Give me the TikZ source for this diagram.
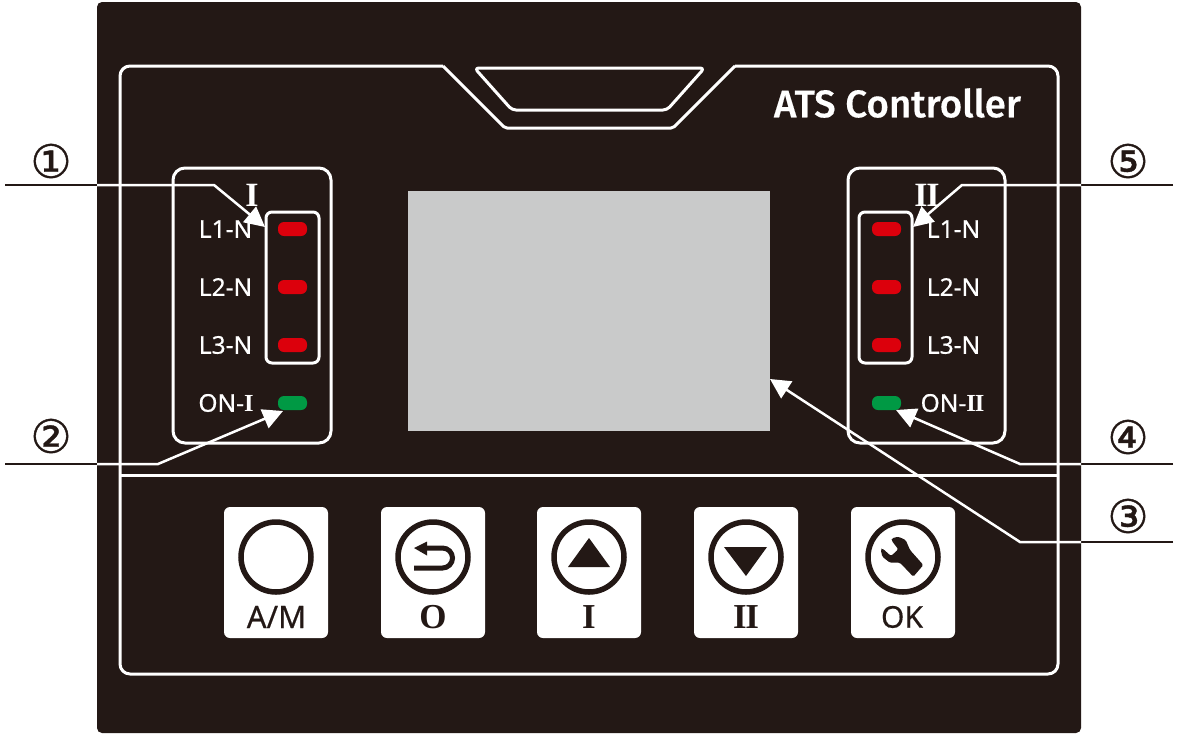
\documentclass[tikz,border=0pt]{standalone}
\usepackage{fontspec}
\usetikzlibrary{arrows.meta}
\setmainfont[FakeBold=0.5]{Noto Sans}
\newfontfamily\serifnum{Liberation Serif}
\newfontfamily\titlefont[FakeBold=0.4]{Fira Sans Medium}
\newfontfamily\dejavu[FakeBold=0.8]{DejaVu Sans}
\definecolor{panelc}{HTML}{231815}
\definecolor{screenc}{HTML}{C9CACA}
\definecolor{ledred}{HTML}{DC000C}
\definecolor{ledgreen}{HTML}{009944}
\newcommand{\fs}[1]{\fontsize{#1}{#1}\selectfont}
\newcommand{\romO}{{\serifnum\bfseries O}}
\newcommand{\romI}{{\serifnum\bfseries I}}
\newcommand{\romII}{{\serifnum\bfseries I\kern-0.04em I}}
\tikzset{
  wline/.style={draw=white,line width=3pt,line join=round},
  leadw/.style={draw=white,line width=2.5pt,line join=miter,-{Triangle[length=20pt,width=20pt,fill=white]}},
  leadk/.style={draw=panelc,line width=2.5pt},
  led/.style={rounded corners=6pt,minimum width=29pt,minimum height=14pt,inner sep=0pt,draw=none},
  redled/.style={led,fill=ledred},
  greenled/.style={led,fill=ledgreen},
  lamp/.style={text=white,font=\fs{24.5},inner sep=0pt,anchor=center},
  btn/.style={fill=white,rounded corners=6pt,minimum width=104pt,minimum height=131pt,inner sep=0pt,draw=none},
  ring/.style={circle,draw=panelc,line width=5.5pt,minimum size=70pt,inner sep=0pt},
  btntext/.style={text=panelc,inner sep=0pt,anchor=center},
  num/.style={text=panelc,font=\dejavu\fs{46},inner sep=0pt,anchor=center},
  glyph/.style={fill=panelc,draw=none},
}
\begin{document}
\begin{tikzpicture}[x=1pt,y=-1pt]
\useasboundingbox (0,0) rectangle (1180,740);
\fill[white] (0,0) rectangle (1180,740);
\fill[panelc,rounded corners=5pt] (97,2) rectangle (1081,733);
% outer outline with notch
\draw[wline,rounded corners=10pt] (443,66) -- (120,66) -- (120,674) -- (1058,674) -- (1058,66) -- (735,66);
\draw[wline,rounded corners=2pt] (443,66) -- (505,128) -- (673,128) -- (735,66);
\draw[wline,rounded corners=4pt] (474.5,68) -- (704.5,68) -- (667,110) -- (512,110) -- cycle;
\draw[wline] (120,475) -- (1058,475);
\node[text=white,font=\titlefont\fs{38.5},inner sep=0pt,anchor=center] (title) at (897.5,103) {ATS Controller};
% screen
\node[fill=screenc,minimum width=362pt,minimum height=240pt,inner sep=0pt,draw=none] (screen) at (589,311) {};
% left group
\draw[wline,rounded corners=12pt] (173,168) rectangle (331,443);
\draw[wline,rounded corners=6pt] (266,212) rectangle (319,363);
\node[text=white,font=\fs{34},inner sep=0pt] (titleI) at (252,195) {\romI};
\node[lamp] (l1a) at (225.5,229) {L1-N};
\node[lamp] (l2a) at (225.5,287) {L2-N};
\node[lamp] (l3a) at (225.5,345) {L3-N};
\node[lamp] (ona) at (226,403) {ON-\romI};
\node[redled] (ra1) at (292.5,229) {};
\node[redled] (ra2) at (292.5,287) {};
\node[redled] (ra3) at (292.5,345) {};
\node[greenled] (ga) at (292.5,403) {};
% right group
\draw[wline,rounded corners=12pt] (848,168) rectangle (1005,443);
\draw[wline,rounded corners=6pt] (859,212) rectangle (912,363);
\node[text=white,font=\fs{34},inner sep=0pt] (titleII) at (927,195) {\romII};
\node[lamp] (l1b) at (953.5,229) {L1-N};
\node[lamp] (l2b) at (953.5,287) {L2-N};
\node[lamp] (l3b) at (953.5,345) {L3-N};
\node[lamp] (onb) at (952.5,403) {ON-\romII};
\node[redled] (rb1) at (886.5,229) {};
\node[redled] (rb2) at (886.5,287) {};
\node[redled] (rb3) at (886.5,345) {};
\node[greenled] (gb) at (886.5,403) {};
% buttons
\node[btn] (b1) at (276,572.5) {};
\node[btn] (b2) at (433,572.5) {};
\node[btn] (b3) at (589,572.5) {};
\node[btn] (b4) at (746,572.5) {};
\node[btn] (b5) at (903,572.5) {};
\node[ring] (c1) at (276,557) {};
\node[ring] (c2) at (433,557) {};
\node[ring] (c3) at (589,557) {};
\node[ring] (c4) at (746,557) {};
\node[ring] (c5) at (903,557) {};
\node[btntext,font=\fs{31}] (t1) at (276.5,617) {A/M};
\node[btntext,font=\fs{35}] (t2) at (433,617) {\romO};
\node[btntext,font=\fs{35}] (t3) at (589,617) {\romI};
\node[btntext,font=\fs{35}] (t4) at (746,617) {\romII};
\node[btntext,font=\fs{30}] (t5) at (902,617) {OK};
% return icon
\draw[draw=panelc,line width=5pt,rounded corners=10pt] (414,568) -- (452.5,568) -- (452.5,548) -- (425,548);
\fill[glyph] (414,548) -- (427,541.5) -- (427,555.5) -- cycle;
% triangles
\fill[glyph] (589,538) -- (610,567) -- (568,567) -- cycle;
\fill[glyph] (724,547) -- (767,547) -- (746,576) -- cycle;
% wrench
\fill[glyph,rounded corners=1.5pt] (891.7,538.3) -- (898.3,536.7) -- (905.7,540) -- (910,550) -- (923.3,565) -- (913.3,576.7) -- (900,562.7) -- (890,562.7) -- (882.3,556.7) -- (880.7,549.3) -- (882.3,548.3) -- (891,556) -- (898.3,549.3) -- (891.7,540.7) -- cycle;
% callouts
\node[num] (n1) at (51,161) {①};
\node[num] (n2) at (51,436) {②};
\node[num] (n3) at (1128,516) {③};
\node[num] (n4) at (1128,437) {④};
\node[num] (n5) at (1128,161) {⑤};
\coordinate (e1) at (5,185);   \coordinate (p1) at (97,185);  \coordinate (k1) at (214,185);  \coordinate (a1) at (265,227);
\coordinate (e2) at (5,464);   \coordinate (p2) at (97,464);  \coordinate (k2) at (158,464);  \coordinate (a2) at (283,411);
\coordinate (e3) at (1173,542);\coordinate (p3) at (1081,542);\coordinate (k3) at (1020,542); \coordinate (a3) at (770,379);
\coordinate (e4) at (1173,464);\coordinate (p4) at (1081,464);\coordinate (k4) at (1020,464); \coordinate (a4) at (896,410);
\coordinate (e5) at (1173,185);\coordinate (p5) at (1081,185);\coordinate (k5) at (962,185);  \coordinate (a5) at (913,227);
\draw[leadk] (e1) -- (p1);
\draw[leadk] (e2) -- (p2);
\draw[leadk] (e3) -- (p3);
\draw[leadk] (e4) -- (p4);
\draw[leadk] (e5) -- (p5);
\draw[leadw] (p1) -- (k1) -- (a1);
\draw[leadw] (p2) -- (k2) -- (a2);
\draw[leadw] (p3) -- (k3) -- (a3);
\draw[leadw] (p4) -- (k4) -- (a4);
\draw[leadw] (p5) -- (k5) -- (a5);
\end{tikzpicture}
\end{document}
